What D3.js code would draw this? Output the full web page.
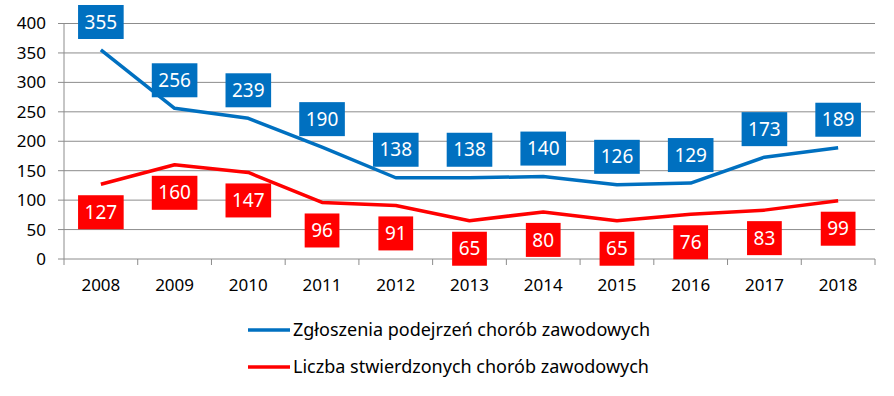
<!DOCTYPE html>
<html>
<head>
<meta charset="utf-8">
<script src="https://cdn.jsdelivr.net/npm/d3@7"></script>
<style>
  body { margin: 0; background: #fff; }
  svg text { font-family: "Noto Sans", sans-serif; }
</style>
</head>
<body>
<div id="chart"></div>
<script>
// data
var years = ["2008","2009","2010","2011","2012","2013","2014","2015","2016","2017","2018"]
var zgloszenia = [355,256,239,190,138,138,140,126,129,173,189]
var stwierdzone = [127,160,147,96,91,65,80,65,76,83,99]
var yTicks = [0,50,100,150,200,250,300,350,400]
var seriesNames = ["Zgłoszenia podejrzeń chorób zawodowych", "Liczba stwierdzonych chorób zawodowych"]

var width = 894, height = 396
var margin = {top: 23.5, right: 19, bottom: 137, left: 64}

var svg = d3.select("#chart").append("svg")
	.attr("width", width)
	.attr("height", height)

var x = d3.scaleBand()
	.domain(years)
	.range([margin.left, width - margin.right])

var y = d3.scaleLinear()
	.domain([0, 400])
	.range([height - margin.bottom, margin.top])

// gridlines
svg.append("g")
	.selectAll("line")
	.data(yTicks)
	.enter().append("line")
	.attr("x1", margin.left - 6)
	.attr("x2", width - margin.right)
	.attr("y1", d => y(d))
	.attr("y2", d => y(d))
	.attr("stroke", "#8c8c8c")
	.attr("stroke-width", 1)

// y axis line
svg.append("line")
	.attr("x1", margin.left).attr("x2", margin.left)
	.attr("y1", y(400)).attr("y2", y(0))
	.attr("stroke", "#8c8c8c")

// y labels
svg.append("g")
	.selectAll("text")
	.data(yTicks)
	.enter().append("text")
	.attr("x", 46)
	.attr("y", d => y(d))
	.attr("dy", "0.35em")
	.attr("text-anchor", "end")
	.attr("font-size", 17)
	.attr("fill", "#000")
	.text(d => d)

// x axis ticks at band edges
var edges = years.map(d => x(d)).concat([x(years[years.length-1]) + x.bandwidth()])
svg.append("g")
	.selectAll("line")
	.data(edges)
	.enter().append("line")
	.attr("x1", d => d).attr("x2", d => d)
	.attr("y1", y(0)).attr("y2", y(0) + 6)
	.attr("stroke", "#8c8c8c")

svg.append("g")
	.selectAll("text")
	.data(years)
	.enter().append("text")
	.attr("x", d => x(d) + x.bandwidth() / 2)
	.attr("y", 285)
	.attr("dy", "0.35em")
	.attr("text-anchor", "middle")
	.attr("font-size", 17)
	.attr("fill", "#000")
	.text(d => d)

var line = d3.line()
	.x((d, i) => x(years[i]) + x.bandwidth() / 2)
	.y(d => y(d))

var series = [
	{values: zgloszenia, color: "#0070c0", off: -28},
	{values: stwierdzone, color: "#ff0000", off: 28}
]

series.forEach(function(s){
	svg.append("path")
		.datum(s.values)
		.attr("fill", "none")
		.attr("stroke", s.color)
		.attr("stroke-width", 3.5)
		.attr("stroke-linejoin", "round")
		.attr("d", line)
})

// data labels in boxes
series.forEach(function(s){
	s.values.forEach(function(v, i){
		var cx = x(years[i]) + x.bandwidth() / 2
		var cy = y(v) + s.off
		var g = svg.append("g")
		var t = g.append("text")
			.attr("x", cx)
			.attr("y", cy)
			.attr("dy", "0.35em")
			.attr("text-anchor", "middle")
			.attr("font-size", 19)
			.attr("fill", "#fff")
			.text(v)
		var w = t.node().getBBox().width + 13
		g.insert("rect", "text")
			.attr("x", cx - w / 2)
			.attr("y", cy - 17)
			.attr("width", w)
			.attr("height", 34)
			.attr("fill", s.color)
	})
})

// legend
var legend = svg.append("g")
seriesNames.forEach(function(name, i){
	var ly = 330 + i * 37
	legend.append("line")
		.attr("x1", 248).attr("x2", 290)
		.attr("y1", ly).attr("y2", ly)
		.attr("stroke", series[i].color)
		.attr("stroke-width", 3.5)
	legend.append("text")
		.attr("x", 293)
		.attr("y", ly)
		.attr("dy", "0.35em")
		.attr("font-size", 18)
		.attr("fill", "#000")
		.text(name)
})
</script>
</body>
</html>
